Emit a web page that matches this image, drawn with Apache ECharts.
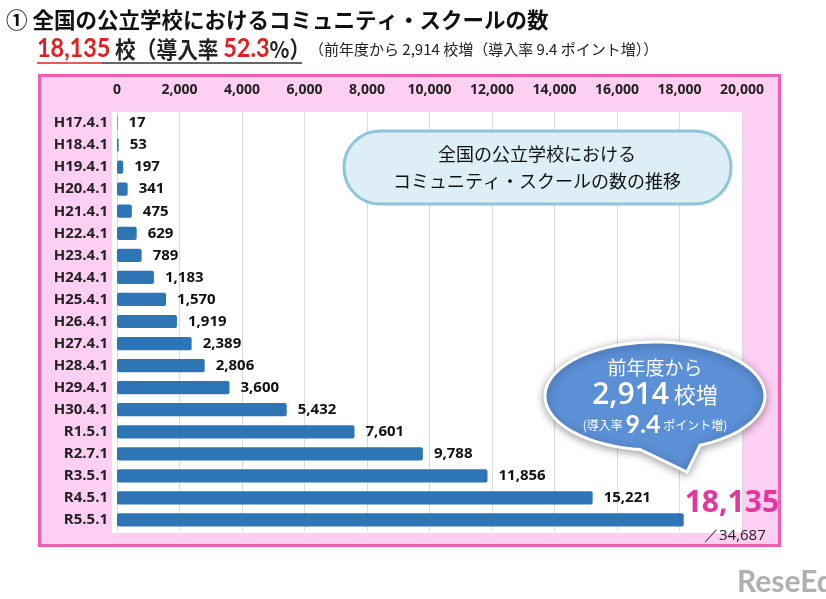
<!DOCTYPE html>
<html><head><meta charset="utf-8">
<script src="https://cdn.jsdelivr.net/npm/echarts@6/dist/echarts.min.js"></script>
<style>html,body{margin:0;padding:0;background:#fff}#c{width:826px;height:599px}</style>
</head><body><div id="c"></div>
<script>
const categories = ['H17.4.1','H18.4.1','H19.4.1','H20.4.1','H21.4.1','H22.4.1','H23.4.1','H24.4.1','H25.4.1','H26.4.1','H27.4.1','H28.4.1','H29.4.1','H30.4.1','R1.5.1','R2.7.1','R3.5.1','R4.5.1','R5.5.1'];
const schools = [17,53,197,341,475,629,789,1183,1570,1919,2389,2806,3600,5432,7601,9788,11856,15221,18135];
const axisMin = 0, axisMax = 20000, axisStep = 2000;
const totalSchools = 34687;
const increaseSchools = 2914;
const rateNow = '52.3';
const rateIncrease = '9.4';

const fmt = v => v.toLocaleString('en-US');
const JP = '"Noto Sans CJK JP", sans-serif';
const NUM = 'Lato, "Noto Sans", sans-serif';
const LBL = '"Open Sans", "Noto Sans", sans-serif';

const lastIdx = schools.length - 1;
const barData = schools.map((v, i) => i === lastIdx ? {
  value: v,
  label: { show: true, fontSize: 30, fontWeight: 'bold', color: '#e8349c', fontFamily: LBL, distance: 1, offset: [0, -17] }
} : v);

// speech bubble outline (ellipse + tail), shape geometry only
function bubblePoints(cx, cy, rx, ry, a0, a1, tip) {
  const pts = [];
  const n = 90;
  for (let k = 0; k <= n; k++) {
    const a = a0 + (a1 - a0) * k / n;
    pts.push([cx + rx * Math.cos(a), cy + ry * Math.sin(a)]);
  }
  pts.push(tip);
  return pts;
}
const bub = { cx: 655, cy: 396, rx: 110, ry: 54 };
const aR = Math.acos(45 / 110), aL = Math.acos(-15 / 110);
const bubblePts = bubblePoints(bub.cx, bub.cy, bub.rx, bub.ry, aR, aL - 2 * Math.PI, [687, 472]);

const chart = echarts.init(document.getElementById('c'));
chart.setOption({
  animation: false,
  grid: { left: 117, right: 84, top: 112, bottom: 68 },
  xAxis: {
    type: 'value', position: 'top', min: axisMin, max: axisMax, interval: axisStep,
    axisLine: { show: false }, axisTick: { show: false },
    splitLine: { lineStyle: { color: '#d9d9d9', width: 1 } },
    axisLabel: { formatter: v => fmt(v), fontFamily: LBL, fontWeight: 'bold', fontSize: 14, color: '#222', margin: 15 }
  },
  yAxis: {
    type: 'category', data: categories, inverse: true,
    axisLine: { show: false }, axisTick: { show: false },
    axisLabel: { fontFamily: LBL, fontWeight: 'bold', fontSize: 15, color: '#222', margin: 9 }
  },
  series: [{
    type: 'bar', data: barData, barCategoryGap: '40%',
    itemStyle: { color: '#2e75b6', borderRadius: 2 },
    label: { show: true, position: 'right', distance: 11, formatter: p => fmt(p.value), fontFamily: LBL, fontWeight: 'bold', fontSize: 15, color: '#111' },
    z: 3
  }],
  graphic: [
    { type: 'rect', z: -10, shape: { x: 39.5, y: 75.5, width: 740, height: 470 }, style: { fill: '#fdd0f3', stroke: '#ec5fb5', lineWidth: 3 } },
    { type: 'rect', z: -9, shape: { x: 112, y: 112, width: 630, height: 421 }, style: { fill: '#ffffff' } },
    { type: 'text', z: 50, left: 6, top: 9, style: { text: '① 全国の公立学校におけるコミュニティ・スクールの数', fontSize: 21.5, fontWeight: 'bold', fontFamily: JP, fill: '#111' } },
    { type: 'group', z: 50, x: 37, y: 36, scaleX: 0.9, children: [
      { type: 'text', style: { x: 0, y: 0, text: '{r|' + fmt(schools[lastIdx]) + '}{d| 校（導入率 }{r|' + rateNow + '}{d|%）}', rich: {
        r: { fontFamily: NUM, fontWeight: 'bold', fontSize: 26, fill: '#e02020', color: '#e02020' },
        d: { fontFamily: JP, fontWeight: 'bold', fontSize: 23, fill: '#222', color: '#222' }
      } } }
    ] },
    { type: 'line', z: 50, shape: { x1: 37, y1: 63, x2: 102, y2: 63 }, style: { stroke: '#e02020', lineWidth: 1.5 } },
    { type: 'line', z: 50, shape: { x1: 102, y1: 63, x2: 302, y2: 63 }, style: { stroke: '#333', lineWidth: 1.5 } },
    { type: 'text', z: 50, x: 309, y: 42, style: { text: '（前年度から ' + fmt(increaseSchools) + ' 校増（導入率 ' + rateIncrease + ' ポイント増））', fontSize: 15, fontWeight: 'normal', fontFamily: JP, fill: '#222' } },
    { type: 'rect', z: 40, shape: { x: 344, y: 131, width: 387, height: 73, r: 36 }, style: { fill: '#ddeef6', stroke: '#8ec5d9', lineWidth: 3 } },
    { type: 'text', z: 41, x: 537, y: 168, style: { text: '全国の公立学校における\nコミュニティ・スクールの数の推移', fontSize: 18, fontFamily: JP, fill: '#111', align: 'center', verticalAlign: 'middle', lineHeight: 27 } },
    { type: 'polygon', z: 40, shape: { points: bubblePts },
      style: { fill: '#5b8fd6', stroke: '#ffffff', lineWidth: 3, shadowBlur: 8, shadowColor: 'rgba(0,0,0,0.35)', shadowOffsetY: 2 } },
    { type: 'text', z: 41, x: 655, y: 368, style: { text: '前年度から', fontSize: 19, fontFamily: JP, fill: '#fff', align: 'center', verticalAlign: 'middle' } },
    { type: 'text', z: 41, x: 655, y: 395, style: { text: '{n|' + fmt(increaseSchools) + '}{s| 校増}', align: 'center', verticalAlign: 'middle', rich: {
      n: { fontFamily: LBL, fontWeight: 600, fontSize: 30, fill: '#fff', color: '#fff' }, s: { fontFamily: JP, fontSize: 22, fill: '#fff', color: '#fff' } } } },
    { type: 'text', z: 41, x: 655, y: 425, style: { text: '{s|(導入率 }{n|' + rateIncrease + '}{s| ポイント増)}', align: 'center', verticalAlign: 'middle', rich: {
      n: { fontFamily: NUM, fontWeight: 'bold', fontSize: 25, fill: '#fff', color: '#fff' }, s: { fontFamily: JP, fontSize: 12, fill: '#fff', color: '#fff' } } } },
    { type: 'text', z: 41, x: 704, y: 536, style: { text: '／' + fmt(totalSchools), fontSize: 15, fontFamily: LBL, fill: '#222', verticalAlign: 'middle' } },
    { type: 'text', z: 41, x: 737, y: 582, style: { text: 'ReseEd', fontSize: 30, fontWeight: 'bold', fontFamily: NUM, fill: '#b0b0b0', verticalAlign: 'middle' } }
  ]
});
</script></body></html>
